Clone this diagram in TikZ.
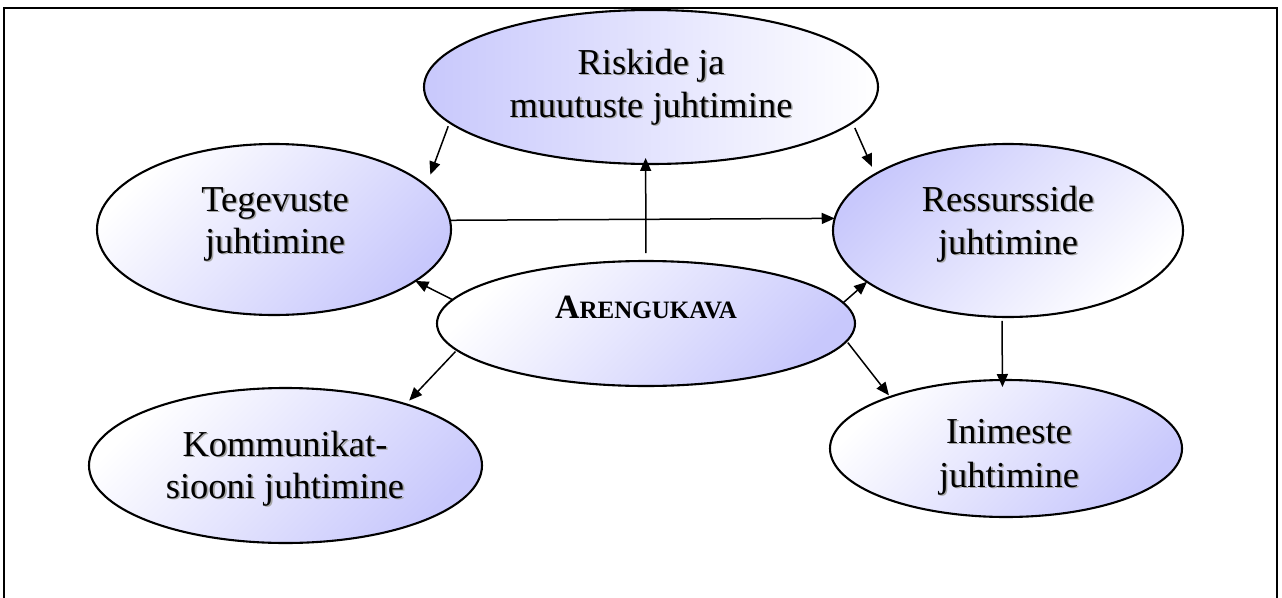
\documentclass[tikz,border=0pt]{standalone}
\usepackage{fontspec}
\setmainfont{Liberation Serif}
\usetikzlibrary{shapes.geometric,arrows.meta}
\definecolor{lav}{RGB}{200,200,252}
\newcommand\shtxt[1]{\makebox[0pt][l]{\hspace{1.6pt}\raisebox{-1.6pt}{\textcolor{black!35}{#1}}}#1}
\begin{document}
\begin{tikzpicture}[x=1pt,y=-1pt,
  ell/.style={ellipse, draw=black, line width=2.1pt, inner sep=0pt, outer sep=0pt},
  gradTL/.style={top color=white, bottom color=lav, shading angle=45},
  gradLT/.style={top color=lav, bottom color=white, shading angle=45},
  gradH/.style={left color=lav, right color=white},
  lbl/.style={anchor=base, inner sep=0pt, outer sep=0pt, font=\fontsize{36.5}{43}\selectfont},
  arr/.style={-{Triangle[length=13pt,width=11pt]}, line width=1.5pt}
]
\useasboundingbox (0,0) rectangle (1282,597);
\clip (0,0) rectangle (1282,597);
\fill[white] (0,0) rectangle (1282,597);
% frame
\draw[line width=2.2pt] (4,8) rectangle (1277,640);

% ellipses
\node[ell, gradH,  minimum width=454pt, minimum height=154pt] (riskide) at (651,87) {};
\node[ell, gradTL, minimum width=354pt, minimum height=171pt] (tegevuste) at (274,229.5) {};
\node[ell, gradLT, minimum width=350pt, minimum height=173pt] (ressursside) at (1008,230.5) {};
\node[ell, gradTL, minimum width=418pt, minimum height=125pt] (arengukava) at (646,323.5) {};
\node[ell, gradTL, minimum width=393pt, minimum height=155pt] (kommunikatsiooni) at (285.5,465.5) {};
\node[ell, gradTL, minimum width=352pt, minimum height=137pt] (inimeste) at (1006,448.5) {};

% labels
\node[lbl] (riskideA) at (651,74) {\shtxt{Riskide ja}};
\node[lbl] (riskideB) at (651,117) {\shtxt{muutuste juhtimine}};
\node[lbl] (tegevusteA) at (275,211) {\shtxt{Tegevuste}};
\node[lbl] (tegevusteB) at (275,253) {\shtxt{juhtimine}};
\node[lbl] (ressurssideA) at (1008,211) {\shtxt{Ressursside}};
\node[lbl] (ressurssideB) at (1008,254) {\shtxt{juhtimine}};
\node[lbl] (kommA) at (285,456) {\shtxt{Kommunikat-}};
\node[lbl] (kommB) at (285,498) {\shtxt{siooni juhtimine}};
\node[lbl] (inimesteA) at (1009,443) {\shtxt{Inimeste}};
\node[lbl] (inimesteB) at (1009,487) {\shtxt{juhtimine}};
\node[anchor=base, inner sep=0pt, font=\bfseries] (arengukavaT) at (646,318)
  {{\fontsize{34}{40}\selectfont A}{\fontsize{25}{30}\selectfont RENGUKAVA}};

% connectors
\draw[arr, shorten <=4pt, shorten >=12pt] (riskide.190.5) -- (tegevuste.16);
\draw[arr, shorten <=6pt, shorten >=8pt] (riskide.350) -- (ressursside.157);
\draw[arr] (tegevuste.3) -- (ressursside.176.7);
\draw[arr, shorten <=8pt, shorten >=-6pt] (arengukava.north) -- (riskide.266.3);
\draw[arr] (arengukava.173.2) -- (tegevuste.340);
\draw[arr] (arengukava.6.5) -- (ressursside.200.5);
\draw[arr, shorten <=2pt, shorten >=5pt] (arengukava.188.6) -- (kommunikatsiooni.27);
\draw[arr, shorten <=2pt, shorten >=2pt] (arengukava.355.1) -- (inimeste.156.7);
\draw[arr, shorten <=4pt, shorten >=-7pt] (ressursside.266) -- (inimeste.93.3);
\end{tikzpicture}
\end{document}
